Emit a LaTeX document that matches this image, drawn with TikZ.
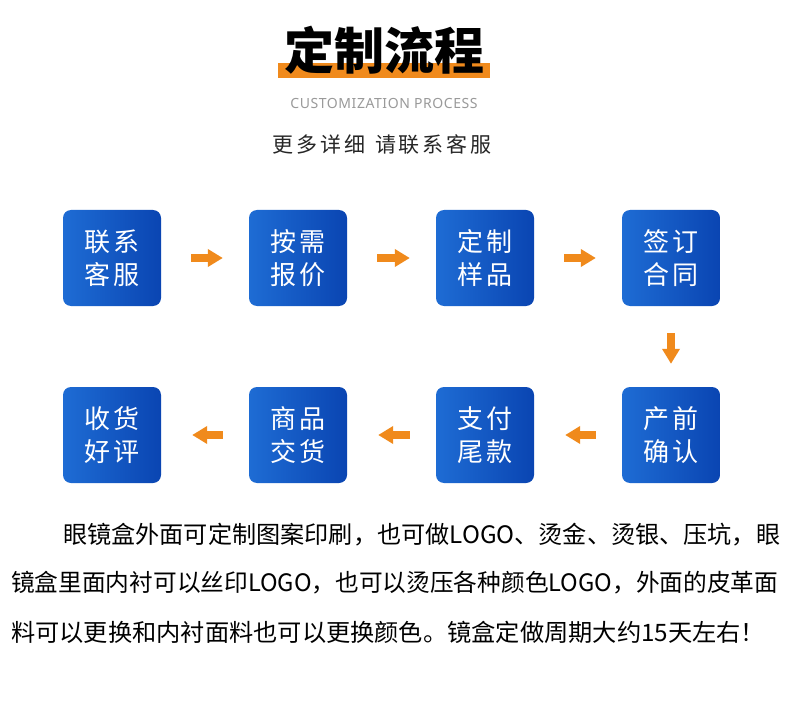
\documentclass[tikz,border=0pt]{standalone}
\usepackage{fontspec}
\usepackage{graphicx}
\usepackage{tikz}
\usetikzlibrary{positioning,arrows.meta}
\newfontfamily\cjk{Noto Sans CJK SC}
\newfontfamily\boxfont[LetterSpace=8]{Noto Sans CJK SC}
\newfontfamily\subfont[LetterSpace=14]{Noto Sans CJK SC}
\newfontfamily\latfont[LetterSpace=4]{Noto Sans}
\definecolor{flowblue}{HTML}{1E6CD4}
\definecolor{flowdark}{HTML}{0A45B2}
\definecolor{floworange}{HTML}{F08A1C}
\definecolor{subgray}{HTML}{9A9A9A}

% squeeze one line of text to a given width
\newsavebox\linebox
\newcommand\fitline[2]{\sbox\linebox{#2}\resizebox{#1}{\ht\linebox}{\usebox\linebox}}

\tikzset{
  flowbox/.style={rounded corners=8pt,left color=flowblue,right color=flowdark,
    minimum width=98pt,minimum height=96pt,text=white,align=center,
    font=\boxfont\fontsize{26}{33}\selectfont,inner sep=0pt},
  flowarrow/.style={draw=floworange,line width=8pt,
    -{Triangle[length=15pt,width=17pt]}},
  bodyline/.style={anchor=west,inner sep=0pt,font=\cjk\fontsize{24}{30}\selectfont}
}

\begin{document}
\begin{tikzpicture}[x=1pt,y=-1pt]
\fill[white] (0,0) rectangle (800,719);
\useasboundingbox (0,0) rectangle (800,719);

% heading
\fill[floworange] (278,63) rectangle (490,78);
\node[font=\cjk\bfseries\fontsize{50}{50}\selectfont,inner sep=0pt] (title) at (384,50) {定制流程};
\node[font=\latfont\fontsize{14}{14}\selectfont,text=subgray,inner sep=0pt] (subtitle) at (384,103) {CUSTOMIZATION PROCESS};
\node[font=\subfont\fontsize{21}{22}\selectfont,text=black!85,inner sep=0pt] (contact) at (382,145) {更多详细\hspace{10pt}请联系客服};

% steps
\node[flowbox] (lianxi)  at (112,258) {联系\\客服};
\node[flowbox] (baojia)  at (298,258) {按需\\报价};
\node[flowbox] (yangpin) at (485,258) {定制\\样品};
\node[flowbox] (hetong)  at (671,258) {签订\\合同};
\node[flowbox] (queren)  at (671,435) {产前\\确认};
\node[flowbox] (weikuan) at (485,435) {支付\\尾款};
\node[flowbox] (jiaohuo) at (298,435) {商品\\交货};
\node[flowbox] (haoping) at (112,435) {收货\\好评};

\draw[flowarrow,shorten <=30pt,shorten >=26pt] (lianxi) -- (baojia);
\draw[flowarrow,shorten <=30pt,shorten >=26pt] (baojia) -- (yangpin);
\draw[flowarrow,shorten <=30pt,shorten >=26pt] (yangpin) -- (hetong);
\draw[flowarrow,shorten <=27pt,shorten >=23pt] (hetong) -- (queren);
\draw[flowarrow,shorten <=26pt,shorten >=31pt] (queren) -- (weikuan);
\draw[flowarrow,shorten <=26pt,shorten >=31pt] (weikuan) -- (jiaohuo);
\draw[flowarrow,shorten <=26pt,shorten >=31pt] (jiaohuo) -- (haoping);

% description
\node[bodyline] (line1) at (63,535) {\fitline{717pt}{眼镜盒外面可定制图案印刷，也可做LOGO、烫金、烫银、压坑，眼}};
\node[bodyline] (line2) at (11,583) {\fitline{767pt}{镜盒里面内衬可以丝印LOGO，也可以烫压各种颜色LOGO，外面的皮革面}};
\node[bodyline] (line3) at (11,632) {\fitline{754pt}{料可以更换和内衬面料也可以更换颜色。镜盒定做周期大约15天左右！}};
\end{tikzpicture}
\end{document}
